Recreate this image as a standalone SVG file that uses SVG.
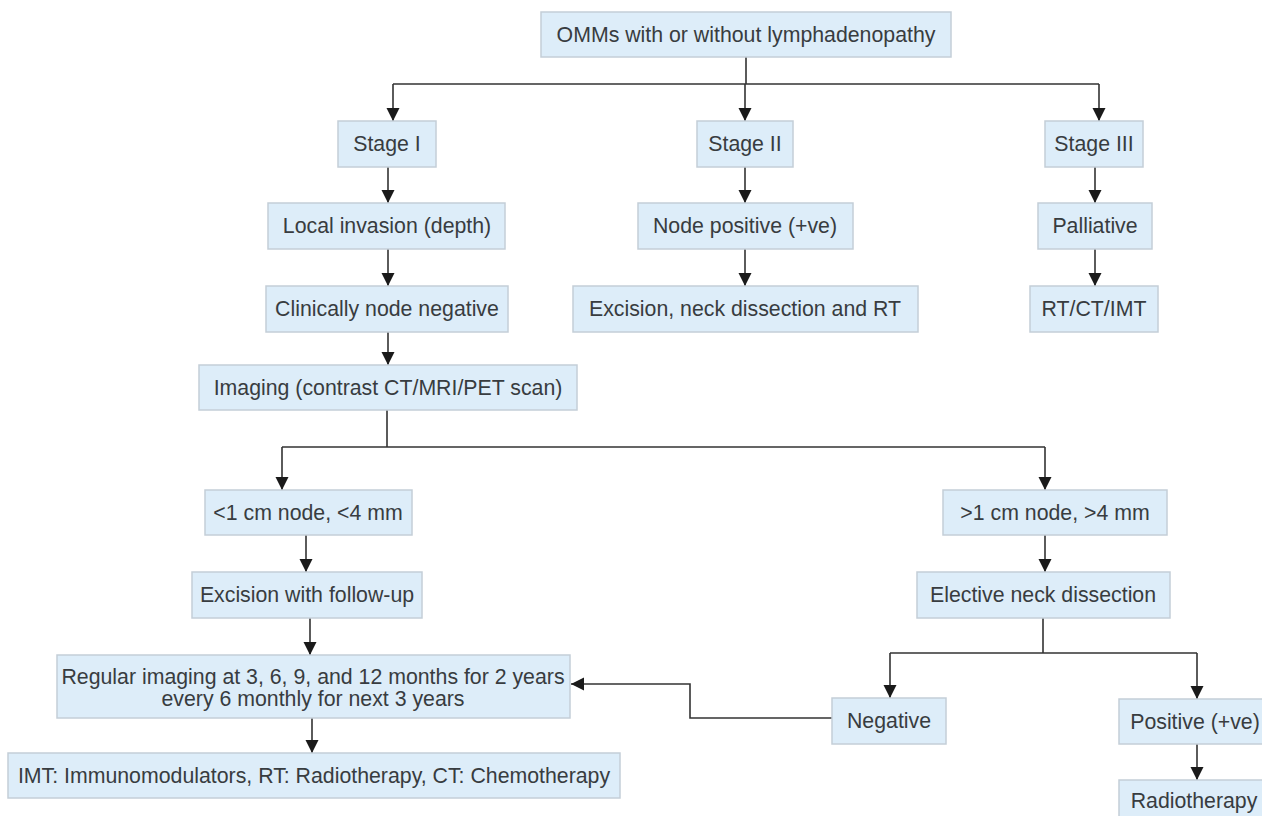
<svg xmlns="http://www.w3.org/2000/svg" width="1262" height="816" viewBox="0 0 1262 816">
<style>
.box{fill:#ddedf9;stroke:#c4ced7;stroke-width:1.5}
.t{font-family:"Liberation Sans",Arial,sans-serif;font-size:21.3px;fill:#383c40;text-anchor:middle}
.c{fill:none;stroke:#333;stroke-width:1.6}
</style>
<defs>
<marker id="ah" markerUnits="userSpaceOnUse" markerWidth="13" markerHeight="14" refX="13" refY="6.5" orient="auto">
<path d="M0,0 L13,6.5 L0,13 Z" fill="#1a1a1a"/>
</marker>
</defs>
<rect width="1262" height="816" fill="#ffffff"/>
<g id="connectors">
<path class="c" d="M746,57 V84 M393,84 H1099"/>
<path class="c" marker-end="url(#ah)" d="M393,84 V121"/>
<path class="c" marker-end="url(#ah)" d="M745,84 V121"/>
<path class="c" marker-end="url(#ah)" d="M1099,84 V121"/>
<path class="c" marker-end="url(#ah)" d="M388,167 V203"/>
<path class="c" marker-end="url(#ah)" d="M388,249 V286"/>
<path class="c" marker-end="url(#ah)" d="M388,332 V365"/>
<path class="c" marker-end="url(#ah)" d="M745,167 V203"/>
<path class="c" marker-end="url(#ah)" d="M745,249 V286"/>
<path class="c" marker-end="url(#ah)" d="M1095,167 V203"/>
<path class="c" marker-end="url(#ah)" d="M1095,249 V286"/>
<path class="c" d="M387,410 V447 M282,447 H1045"/>
<path class="c" marker-end="url(#ah)" d="M282,447 V490"/>
<path class="c" marker-end="url(#ah)" d="M1045,447 V490"/>
<path class="c" marker-end="url(#ah)" d="M306,535 V572"/>
<path class="c" marker-end="url(#ah)" d="M310,618 V655"/>
<path class="c" marker-end="url(#ah)" d="M312,718 V753"/>
<path class="c" marker-end="url(#ah)" d="M1045,535 V572"/>
<path class="c" d="M1043,618 V653 M890,653 H1197"/>
<path class="c" marker-end="url(#ah)" d="M890,653 V698"/>
<path class="c" marker-end="url(#ah)" d="M1197,653 V699"/>
<path class="c" marker-end="url(#ah)" d="M832,718 H690 V684 H571"/>
<path class="c" marker-end="url(#ah)" d="M1197,744 V780"/>
</g>
<g id="n-top"><rect class="box" x="541" y="12" width="410" height="45"/><text class="t" x="746" y="42">OMMs with or without lymphadenopathy</text></g>
<g id="n-stage1"><rect class="box" x="338" y="121" width="98" height="46"/><text class="t" x="387" y="151">Stage I</text></g>
<g id="n-stage2"><rect class="box" x="697" y="121" width="96" height="46"/><text class="t" x="745" y="151">Stage II</text></g>
<g id="n-stage3"><rect class="box" x="1045" y="121" width="98" height="46"/><text class="t" x="1094" y="151">Stage III</text></g>
<g id="n-local"><rect class="box" x="268" y="203" width="237" height="46"/><text class="t" x="387" y="233">Local invasion (depth)</text></g>
<g id="n-nodepos"><rect class="box" x="638" y="203" width="215" height="46"/><text class="t" x="745" y="233">Node positive (+ve)</text></g>
<g id="n-palliative"><rect class="box" x="1038" y="203" width="114" height="46"/><text class="t" x="1095" y="233">Palliative</text></g>
<g id="n-clinical"><rect class="box" x="266" y="286" width="242" height="46"/><text class="t" x="387" y="316">Clinically node negative</text></g>
<g id="n-excneck"><rect class="box" x="573" y="286" width="345" height="46"/><text class="t" x="745" y="316">Excision, neck dissection and RT</text></g>
<g id="n-rtctimt"><rect class="box" x="1030" y="286" width="128" height="46"/><text class="t" x="1094" y="316">RT/CT/IMT</text></g>
<g id="n-imaging"><rect class="box" x="199" y="365" width="378" height="45"/><text class="t" x="388" y="395">Imaging (contrast CT/MRI/PET scan)</text></g>
<g id="n-small"><rect class="box" x="205" y="490" width="207" height="45"/><text class="t" x="308" y="520">&lt;1 cm node, &lt;4 mm</text></g>
<g id="n-large"><rect class="box" x="943" y="490" width="224" height="45"/><text class="t" x="1055" y="520">&gt;1 cm node, &gt;4 mm</text></g>
<g id="n-excfollow"><rect class="box" x="192" y="572" width="230" height="46"/><text class="t" x="307" y="602">Excision with follow-up</text></g>
<g id="n-elective"><rect class="box" x="917" y="572" width="253" height="46"/><text class="t" x="1043" y="602">Elective neck dissection</text></g>
<g id="n-regular"><rect class="box" x="57" y="655" width="513" height="63"/><text class="t" x="313" y="684">Regular imaging at 3, 6, 9, and 12 months for 2 years</text><text class="t" x="313" y="706">every 6 monthly for next 3 years</text></g>
<g id="n-negative"><rect class="box" x="832" y="698" width="114" height="46"/><text class="t" x="889" y="728">Negative</text></g>
<g id="n-positive"><rect class="box" x="1119" y="699" width="150" height="45"/><text class="t" x="1195" y="729">Positive (+ve)</text></g>
<g id="n-radio"><rect class="box" x="1119" y="780" width="150" height="42"/><text class="t" x="1194" y="808">Radiotherapy</text></g>
<g id="n-legend"><rect class="box" x="8" y="753" width="612" height="45"/><text class="t" x="314" y="783">IMT: Immunomodulators, RT: Radiotherapy, CT: Chemotherapy</text></g>
</svg>
